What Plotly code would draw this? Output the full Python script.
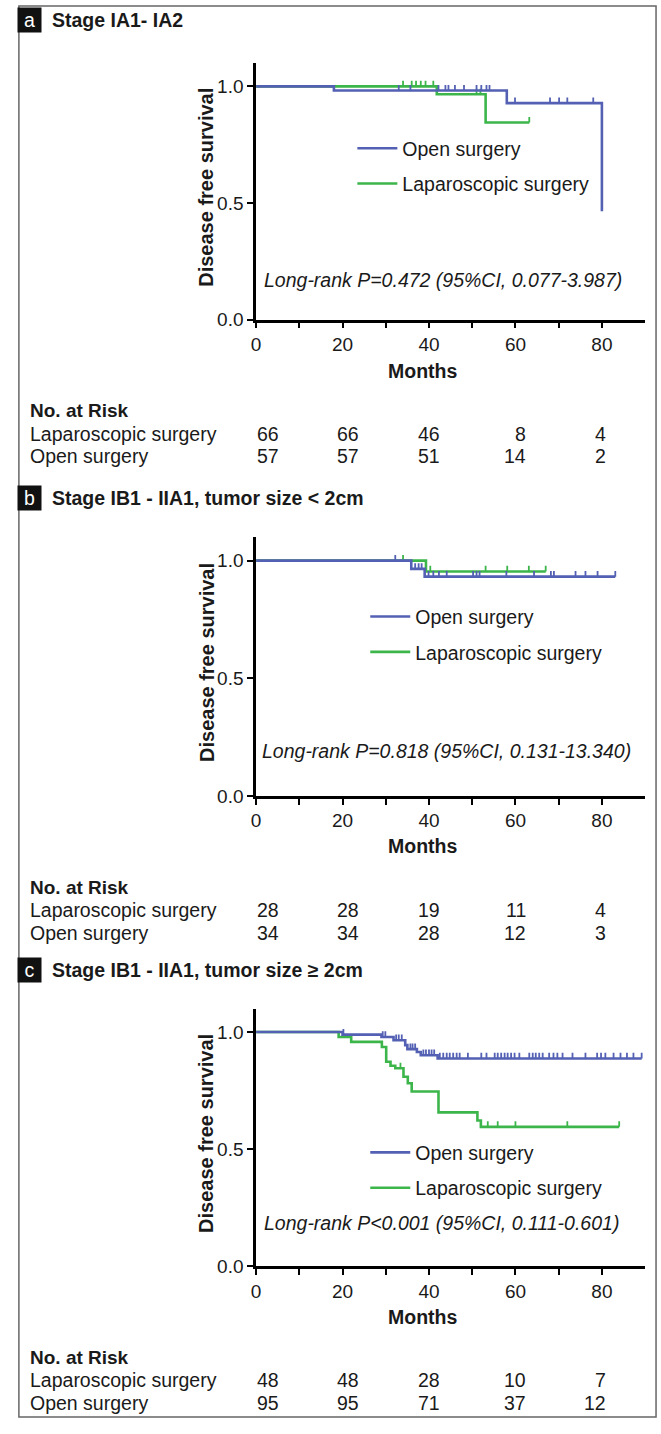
import plotly.graph_objects as go

W, H = 661, 1434
BLUE = "#5360b3"
GREEN = "#3cb54a"
FONT = "Liberation Sans, Arial, sans-serif"
TXT = "#1a1a1a"

# ---------------- data ----------------
panel_letters = ["a", "b", "c"]
panel_titles = ["Stage IA1- IA2", "Stage IB1 - IIA1, tumor size < 2cm", "Stage IB1 - IIA1, tumor size \u2265 2cm"]
pvalue_texts = ["Long-rank P=0.472 (95%CI, 0.077-3.987)",
                "Long-rank P=0.818 (95%CI, 0.131-13.340)",
                "Long-rank P<0.001 (95%CI, 0.111-0.601)"]
series_names = ["Open surgery", "Laparoscopic surgery"]
x_title = "Months"
y_title = "Disease free survival"

# Panel a
a_open_t = [0, 18, 58, 80]
a_open_s = [1.0, 0.982, 0.928, 0.464]
a_open_end = 80
a_open_cens = [33.0, 35.7, 42.2, 43.8, 44.5, 46.0, 48.1, 51.0, 52.1, 53.3, 54.0, 59.9, 68.0, 70.1, 72.0, 78.0]
a_lap_t = [0, 41.8, 53.1]
a_lap_s = [1.0, 0.966, 0.845]
a_lap_end = 63.2
a_lap_cens = [34.0, 36.0, 37.0, 38.1, 39.2, 41.0, 51.0, 51.9, 63.2]

# Panel b
b_open_t = [0, 35.9, 39.0]
b_open_s = [1.0, 0.965, 0.932]
b_open_end = 83.1
b_open_cens = [32.2, 36.8, 37.6, 38.3, 39.9, 41.0, 42.3, 44.1, 50.2, 51.0, 51.7, 57.9, 64.3,
               68.2, 68.9, 73.9, 76.2, 79.0, 83.1]
b_lap_t = [0, 39.3]
b_lap_s = [1.0, 0.954]
b_lap_end = 67.0
b_lap_cens = [34.0, 40.3, 53.1, 58.1, 63.1, 67.0]

# Panel c
c_open_t = [0, 20.0, 29.0, 31.8, 34.5, 35.0, 37.2, 38.1, 42.0]
c_open_s = [1.0, 0.989, 0.979, 0.965, 0.944, 0.927, 0.915, 0.901, 0.887]
c_open_end = 89.2
c_open_cens = [20.2, 29.3, 29.9, 32.4, 33.0, 33.7, 35.7, 36.2, 36.8, 38.7, 39.3, 40.0, 40.6, 41.2,
               42.5, 43.3, 44.1, 44.8, 45.6, 46.4, 47.1, 49.0, 52.1, 53.3, 55.2, 55.9, 56.7, 57.5,
               58.2, 59.0, 59.8, 60.9, 63.2, 64.0, 64.7, 65.5, 66.3, 67.8, 68.8, 69.7, 70.9, 73.2,
               76.2, 78.9, 79.8, 80.8, 82.7, 84.3, 85.8, 87.3, 89.2]
c_lap_t = [0, 19.1, 22.0, 29.1, 30.1, 31.1, 32.2, 34.1, 35.1, 36.0, 42.2, 51.2, 52.0]
c_lap_s = [1.0, 0.979, 0.958, 0.936, 0.873, 0.856, 0.845, 0.809, 0.781, 0.746, 0.657, 0.622, 0.595]
c_lap_end = 84.0
c_lap_cens = [33.4, 53.6, 55.9, 60.0, 72.0, 84.0]

risk_times = [0, 20, 40, 60, 80]
a_risk_lap = [66, 66, 46, 8, 4]
a_risk_open = [57, 57, 51, 14, 2]
b_risk_lap = [28, 28, 19, 11, 4]
b_risk_open = [34, 34, 28, 12, 3]
c_risk_lap = [48, 48, 28, 10, 7]
c_risk_open = [95, 95, 71, 37, 12]

x_ticks = [0, 20, 40, 60, 80]
x_minor_ticks = [10, 30, 50, 70]
y_ticks = [0.0, 0.5, 1.0]
y_ticklabels = ["0.0", "0.5", "1.0"]

panels = [
    dict(open=(a_open_t, a_open_s, a_open_end, a_open_cens), lap=(a_lap_t, a_lap_s, a_lap_end, a_lap_cens),
         risk=(a_risk_lap, a_risk_open)),
    dict(open=(b_open_t, b_open_s, b_open_end, b_open_cens), lap=(b_lap_t, b_lap_s, b_lap_end, b_lap_cens),
         risk=(b_risk_lap, b_risk_open)),
    dict(open=(c_open_t, c_open_s, c_open_end, c_open_cens), lap=(c_lap_t, c_lap_s, c_lap_end, c_lap_cens),
         risk=(c_risk_lap, c_risk_open)),
]

# ---------------- layout geometry (pixels) ----------------
X0, X1 = 253, 645             # x axis 0 .. 90
Y_ZERO = [322, 802, 1276]     # pixel of y=0
Y_ONE = [87, 565, 1040]       # pixel of y=1.0
HEADER_Y = [20, 502, 977]
RISK_Y0 = [414, 894, 1368]
RISK_DY = 23
RISK_NUM_X = [278, 359, 440, 527, 608]
LEGEND_TOP = [130, 602, 1142]
LEGEND_X = [350, 363, 363]
PTEXT = [(441, 282), (445, 757), (440, 1232)]
XTITLE = [(421, 374), (421, 853), (421, 1327)]
YTITLE_X = 203


def px_x(p):
    return p / W


def px_y(p):
    return 1 - p / H


def surv_at(ts, ss, t):
    v = ss[0]
    for ti, si in zip(ts, ss):
        if ti <= t:
            v = si
    return v


fig = go.Figure()
annotations = []
layout_axes = {}

for i, pn in enumerate(panels):
    k = "" if i == 0 else str(i + 1)
    xa, ya = "x" + k, "y" + k
    legname = "legend" + k
    per = (Y_ZERO[i] - Y_ONE[i])
    ytop = Y_ONE[i] - 0.1 * per
    for key, color, name, rank in [("lap", GREEN, series_names[1], 2), ("open", BLUE, series_names[0], 1)]:
        ts, ss, end, cens = pn[key]
        xs = list(ts) + ([end] if end > ts[-1] else [])
        ys = list(ss) + ([ss[-1]] if end > ts[-1] else [])
        fig.add_trace(go.Scatter(x=xs, y=ys, mode="lines", line=dict(color=color, width=2.6, shape="hv"),
                                 name=name, xaxis=xa, yaxis=ya, legend=legname, legendrank=rank,
                                 legendgroup=name + k, showlegend=True, hoverinfo="skip"))
        tx, ty = [], []
        for c in cens:
            s = surv_at(ts, ss, c)
            tx += [c, c, None]
            ty += [s, s + 0.024, None]
        fig.add_trace(go.Scatter(x=tx, y=ty, mode="lines", line=dict(color=color, width=1.8),
                                 xaxis=xa, yaxis=ya, showlegend=False, hoverinfo="skip"))

    layout_axes["xaxis" + k] = dict(
        domain=[px_x(X0), px_x(X1)], range=[0, 90], anchor=ya,
        tickvals=x_ticks, ticks="outside", ticklen=6, tickwidth=2, tickcolor="black",
        showline=True, linecolor="black", linewidth=2.5, showgrid=False, zeroline=False,
        minor=dict(tickvals=x_minor_ticks, ticks="outside", ticklen=6, tickwidth=2, tickcolor="black"),
        tickfont=dict(size=19, color=TXT, family=FONT),
        fixedrange=True,
    )
    layout_axes["yaxis" + k] = dict(
        domain=[px_y(Y_ZERO[i]), px_y(ytop)], range=[0, 1.1], anchor=xa,
        tickvals=y_ticks, ticktext=y_ticklabels, ticks="outside", ticklen=6, tickwidth=2, tickcolor="black",
        showline=True, linecolor="black", linewidth=2.5, showgrid=False, zeroline=False,
        tickfont=dict(size=19, color=TXT, family=FONT),
        fixedrange=True,
    )
    layout_axes[legname] = dict(
        x=px_x(LEGEND_X[i]), y=px_y(LEGEND_TOP[i]), xanchor="left", yanchor="top",
        bgcolor="rgba(0,0,0,0)", font=dict(size=19.5, color=TXT, family=FONT),
        tracegroupgap=7, itemwidth=40, traceorder="grouped",
    )

    # axis titles
    annotations.append(dict(x=px_x(XTITLE[i][0]), y=px_y(XTITLE[i][1]), xref="paper", yref="paper",
                            xanchor="center", yanchor="middle", text="<b>" + x_title + "</b>", showarrow=False,
                            font=dict(size=19.5, color=TXT, family=FONT)))
    annotations.append(dict(x=px_x(YTITLE_X), y=px_y((ytop + Y_ZERO[i]) / 2 - 4), xref="paper", yref="paper",
                            xanchor="center", yanchor="middle", text="<b>" + y_title + "</b>", showarrow=False,
                            textangle=-90, font=dict(size=20, color=TXT, family=FONT)))
    # header
    annotations.append(dict(x=px_x(12), y=px_y(HEADER_Y[i]), xref="paper", yref="paper", xanchor="left",
                            yanchor="middle", text=panel_letters[i], showarrow=False, bgcolor="#111111",
                            width=21, height=22, font=dict(size=19.5, color="white", family=FONT)))
    annotations.append(dict(x=px_x(45), y=px_y(HEADER_Y[i]), xref="paper", yref="paper", xanchor="left",
                            yanchor="middle", text="<b>" + panel_titles[i] + "</b>", showarrow=False,
                            font=dict(size=19.5, color=TXT, family=FONT)))
    # p-value text
    annotations.append(dict(x=px_x(PTEXT[i][0]), y=px_y(PTEXT[i][1]), xref="paper", yref="paper",
                            xanchor="center", yanchor="middle", text="<i>" + pvalue_texts[i] + "</i>",
                            showarrow=False, font=dict(size=19.5, color=TXT, family=FONT)))
    # risk table
    annotations.append(dict(x=px_x(23), y=px_y(RISK_Y0[i]), xref="paper", yref="paper", xanchor="left",
                            yanchor="middle", text="<b>No. at Risk</b>", showarrow=False,
                            font=dict(size=19, color=TXT, family=FONT)))
    rl, ro = pn["risk"]
    for row, (label, vals) in enumerate([(series_names[1], rl), (series_names[0], ro)]):
        yy = RISK_Y0[i] + RISK_DY * (row + 1)
        annotations.append(dict(x=px_x(23), y=px_y(yy), xref="paper", yref="paper", xanchor="left",
                                yanchor="middle", text=label, showarrow=False,
                                font=dict(size=19.5, color=TXT, family=FONT)))
        for j, v in enumerate(vals):
            annotations.append(dict(x=px_x(RISK_NUM_X[j]), y=px_y(yy), xref="paper", yref="paper",
                                    xanchor="right", yanchor="middle", text=str(v), showarrow=False,
                                    font=dict(size=19.5, color=TXT, family=FONT)))

fig.update_layout(
    width=W, height=H, margin=dict(l=0, r=0, t=0, b=0, pad=0),
    paper_bgcolor="white", plot_bgcolor="white",
    annotations=annotations,
    shapes=[dict(type="rect", xref="paper", yref="paper", x0=px_x(14), x1=px_x(656), y0=px_y(1428), y1=px_y(6),
                 line=dict(color="#666666", width=1.5), layer="below")],
    **layout_axes,
)

fig.write_html("out.html", include_plotlyjs=True, config={"displayModeBar": False},
               post_script="document.body.style.margin='0px';document.body.style.padding='0px';")
